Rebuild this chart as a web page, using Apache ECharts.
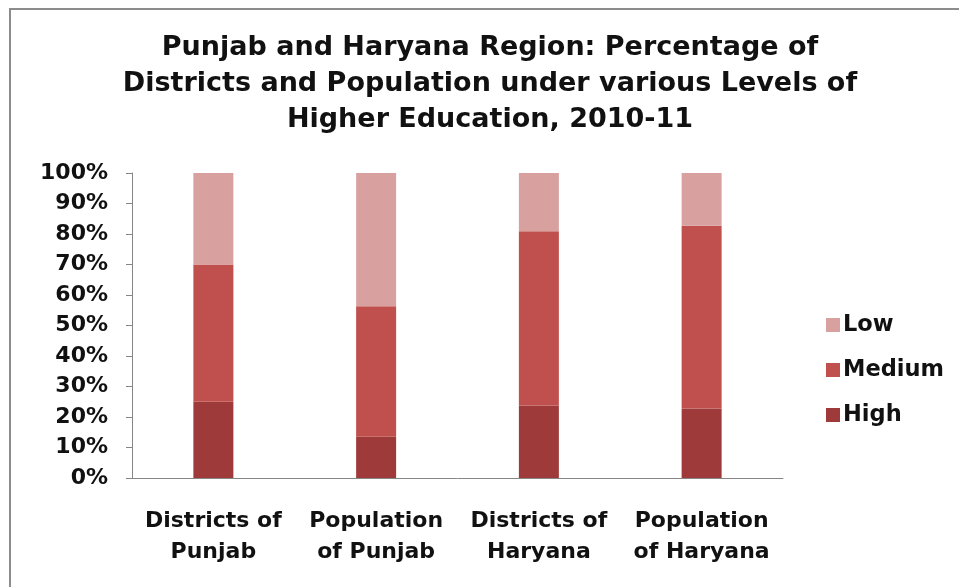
<!DOCTYPE html>
<html><head><meta charset="utf-8">
<script src="https://cdn.jsdelivr.net/npm/echarts@6/dist/echarts.min.js"></script>
<style>html,body{margin:0;padding:0;background:#fff}#c{width:959px;height:587px}</style>
</head><body><div id="c"></div>
<script>
const categories = ["Districts of\nPunjab", "Population\nof Punjab", "Districts of\nHaryana", "Population\nof Haryana"];
const highValues = [25, 13.5, 23.8, 22.8];
const mediumValues = [45, 42.8, 57.1, 59.9];
const lowValues = [30, 43.7, 19.1, 17.3];
const yTicks = [0, 10, 20, 30, 40, 50, 60, 70, 80, 90, 100];
const titleText = "Punjab and Haryana Region: Percentage of\nDistricts and Population under various Levels of\nHigher Education, 2010-11";

const chart = echarts.init(document.getElementById('c'));
const font = "DejaVu Sans, Arial, sans-serif";
chart.setOption({
  animation: false,
  backgroundColor: '#fff',
  graphic: [{
    type: 'rect', shape: { x: 10, y: 9, width: 1000, height: 700 },
    style: { fill: 'none', stroke: '#8c8c8c', lineWidth: 2 }, silent: true, z: -1
  }],
  title: {
    text: titleText, left: 485, top: 25, textAlign: 'center',
    textStyle: { fontFamily: font, fontSize: 27, fontWeight: 'bold', color: '#111', lineHeight: 36 }
  },
  legend: {
    orient: 'vertical', left: 821, top: 308, itemGap: 21,
    itemWidth: 14, itemHeight: 14, icon: 'rect',
    data: ['Low', 'Medium', 'High'],
    textStyle: { fontFamily: font, fontSize: 22.5, fontWeight: 'bold', color: '#111', lineHeight: 24, padding: [0, 0, 0, -2] }
  },
  grid: { left: 132, right: 176, top: 173, bottom: 109 },
  xAxis: {
    type: 'category', data: categories,
    axisLine: { lineStyle: { color: '#868686' } },
    axisTick: { show: false },
    axisLabel: { interval: 0, hideOverlap: false, fontFamily: font, fontSize: 22, fontWeight: 'bold', color: '#111', lineHeight: 31, margin: 28 }
  },
  yAxis: {
    type: 'value', min: yTicks[0], max: yTicks[yTicks.length - 1], interval: 10,
    axisLine: { show: true, lineStyle: { color: '#868686' } },
    axisTick: { show: true, length: 6, lineStyle: { color: '#868686' } },
    splitLine: { show: false },
    axisLabel: { fontFamily: font, fontSize: 22, fontWeight: 'bold', color: '#111', margin: 24, formatter: v => v + '%' }
  },
  series: [
    { name: 'High', type: 'bar', stack: 's', data: highValues, barWidth: 40, itemStyle: { color: '#9e3b3a' } },
    { name: 'Medium', type: 'bar', stack: 's', data: mediumValues, barWidth: 40, itemStyle: { color: '#c0504d' } },
    { name: 'Low', type: 'bar', stack: 's', data: lowValues, barWidth: 40, itemStyle: { color: '#d9a0a0' } }
  ]
});
</script></body></html>
